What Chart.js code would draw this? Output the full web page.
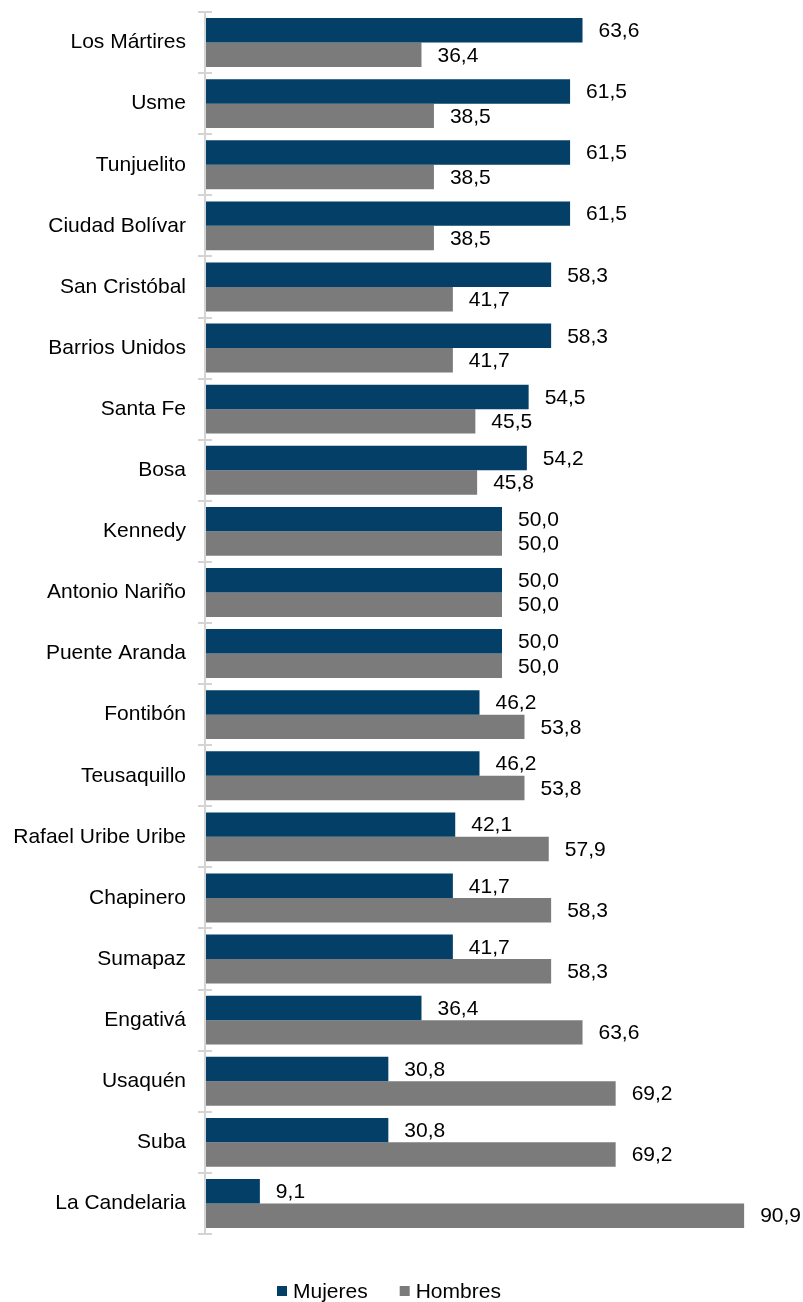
<!DOCTYPE html>
<html>
<head>
<meta charset="utf-8">
<script src="https://cdn.jsdelivr.net/npm/chart.js@4"></script>
<style>
  html, body { margin: 0; padding: 0; background: #fff; }
  #wrap { width: 803px; height: 1302px; position: relative; }
</style>
</head>
<body>
<div id="wrap"><canvas id="chart"></canvas></div>
<script>
const localidades = [
  "Los Mártires", "Usme", "Tunjuelito", "Ciudad Bolívar", "San Cristóbal",
  "Barrios Unidos", "Santa Fe", "Bosa", "Kennedy", "Antonio Nariño",
  "Puente Aranda", "Fontibón", "Teusaquillo", "Rafael Uribe Uribe", "Chapinero",
  "Sumapaz", "Engativá", "Usaquén", "Suba", "La Candelaria",
];
const mujeres = [63.6, 61.5, 61.5, 61.5, 58.3, 58.3, 54.5, 54.2, 50.0, 50.0,
  50.0, 46.2, 46.2, 42.1, 41.7, 41.7, 36.4, 30.8, 30.8, 9.1];
const hombres = [36.4, 38.5, 38.5, 38.5, 41.7, 41.7, 45.5, 45.8, 50.0, 50.0,
  50.0, 53.8, 53.8, 57.9, 58.3, 58.3, 63.6, 69.2, 69.2, 90.9];

const FONT = "'Liberation Sans', Arial, sans-serif";
const AXIS_GRAY = "#d4d4d4";

// value labels to the right of every bar, decimal comma
const valueLabels = {
  id: "valueLabels",
  afterDatasetsDraw(chart) {
    const ctx = chart.ctx;
    ctx.save();
    ctx.font = "21px " + FONT;
    ctx.fillStyle = "#000";
    ctx.textAlign = "left";
    ctx.textBaseline = "middle";
    chart.data.datasets.forEach((ds, i) => {
      chart.getDatasetMeta(i).data.forEach((bar, j) => {
        const txt = ds.data[j].toFixed(1).replace(".", ",");
        ctx.fillText(txt, bar.x + 16, bar.y + 1);
      });
    });
    ctx.restore();
  },
};

// axis line plus short ticks crossing it at category boundaries
const axisTicks = {
  id: "axisTicks",
  afterDraw(chart) {
    const y = chart.scales.y;
    const x0 = chart.chartArea.left - 1;
    const ctx = chart.ctx;
    ctx.save();
    ctx.strokeStyle = AXIS_GRAY;
    ctx.lineWidth = 2;
    const half = (y.getPixelForTick(1) - y.getPixelForTick(0)) / 2;
    for (let i = 0; i <= localidades.length; i++) {
      const py = Math.round(y.getPixelForTick(0) - half + i * half * 2);
      ctx.beginPath();
      ctx.moveTo(x0 - 7, py);
      ctx.lineTo(x0 + 7, py);
      ctx.stroke();
    }
    ctx.beginPath();
    ctx.moveTo(x0, chart.chartArea.top);
    ctx.lineTo(x0, chart.chartArea.bottom);
    ctx.stroke();
    ctx.restore();
  },
};

// legend row under the plot
const legendRow = {
  id: "legendRow",
  afterDraw(chart) {
    const ctx = chart.ctx;
    ctx.save();
    ctx.font = "21px " + FONT;
    ctx.textBaseline = "middle";
    ctx.textAlign = "left";
    let x = 277;
    const cy = 1291;
    chart.data.datasets.forEach((ds) => {
      ctx.fillStyle = ds.backgroundColor;
      ctx.fillRect(x, cy - 5, 10, 10);
      ctx.fillStyle = "#000";
      ctx.fillText(ds.label, x + 16, cy + 1);
      x += 16 + ctx.measureText(ds.label).width + 32;
    });
    ctx.restore();
  },
};

new Chart(document.getElementById("chart"), {
  type: "bar",
  data: {
    labels: localidades,
    datasets: [
      { label: "Mujeres", data: mujeres, backgroundColor: "#033f66" },
      { label: "Hombres", data: hombres, backgroundColor: "#7b7b7b" },
    ],
  },
  options: {
    indexAxis: "y",
    responsive: true,
    maintainAspectRatio: false,
    animation: false,
    layout: { padding: { top: 12, right: 5, bottom: 68 } },
    datasets: { bar: { categoryPercentage: 0.8, barPercentage: 1.0 } },
    scales: {
      x: { display: false, min: 0, max: 100 },
      y: {
        border: { display: false },
        grid: { display: false },
        ticks: { color: "#000", font: { family: FONT, size: 21 }, padding: 12 },
        afterFit: (s) => {
          s.width = 206;
          s.paddingTop = 0;
          s.paddingBottom = 0;
        },
      },
    },
    plugins: {
      legend: { display: false },
      tooltip: { enabled: false },
    },
  },
  plugins: [valueLabels, axisTicks, legendRow],
});
</script>
</body>
</html>
